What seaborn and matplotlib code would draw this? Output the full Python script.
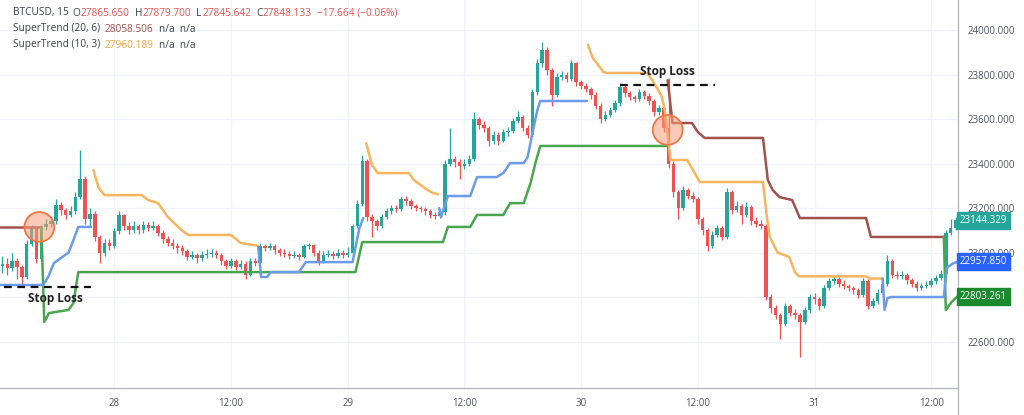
import numpy as np
import pandas as pd
import matplotlib
matplotlib.use("Agg")
import matplotlib.pyplot as plt
import seaborn as sns

# -------------------------------
# Chart data (30 min candles, time in hours from 28 00:00)
# -------------------------------
first_time = -11.5
step_hours = 0.5
first_open = 22940

closes = [
    22950, 22930, 22960, 22935, 22890, 23040, 23110, 22970, 23115, 23130,
    23140, 23215, 23190, 23170, 23185, 23250, 23330, 23150, 23175, 23070,
    23000, 23045, 23030, 23095, 23170, 23120, 23100, 23120, 23100, 23125,
    23110, 23120, 23090, 23060, 23045, 23030, 23020, 23005, 22980, 22990,
    22975, 22990, 22995, 23000, 22990, 22960, 22940, 22960, 22935, 22950,
    22900, 22960, 22955, 23030, 23020, 23030, 23010, 23000, 22995, 22985,
    22990, 22980, 23030, 23035, 23000, 22960, 22990, 22995, 22985, 23000,
    22990, 23000, 23120, 23220, 23410, 23160, 23140, 23120, 23160, 23185,
    23200, 23195, 23240, 23230, 23210, 23200, 23195, 23185, 23170, 23165,
    23180, 23400, 23420, 23405, 23390, 23400, 23420, 23600, 23575, 23560,
    23500, 23530, 23500, 23540, 23545, 23590, 23610, 23560, 23530, 23720,
    23850, 23910, 23820, 23710, 23790, 23800, 23780, 23850, 23765, 23750,
    23735, 23710, 23660, 23600, 23620, 23640, 23670, 23745, 23715, 23700,
    23690, 23720, 23705, 23680, 23630, 23650, 23560, 23400, 23270, 23200,
    23280, 23255, 23240, 23150, 23100, 23030, 23080, 23110, 23070, 23270,
    23190, 23210, 23170, 23205, 23140, 23130, 23120, 22800, 22750, 22720,
    22680, 22760, 22730, 22720, 22690, 22740, 22800, 22790, 22760, 22840,
    22870, 22880, 22860, 22850, 22840, 22830, 22810, 22870, 22760, 22780,
    22820, 22860, 22960, 22900, 22895, 22900, 22875, 22860, 22840, 22850,
    22855, 22870, 22885, 22905, 23090, 23110, 23144,
]

highs = [
    22985, 22975, 23000, 22975, 22945, 23055, 23125, 23120, 23125, 23150,
    23160, 23240, 23225, 23200, 23210, 23270, 23461, 23345, 23200, 23185,
    23080, 23060, 23060, 23110, 23185, 23175, 23135, 23140, 23130, 23140,
    23135, 23140, 23130, 23100, 23075, 23060, 23045, 23035, 23015, 23005,
    23000, 23005, 23015, 23015, 23010, 23000, 22970, 22975, 22970, 22965,
    22960, 22975, 22975, 23045, 23040, 23045, 23040, 23020, 23015, 23005,
    23005, 23000, 23040, 23045, 23040, 23010, 23005, 23010, 23005, 23015,
    23010, 23025, 23130, 23235, 23440, 23420, 23175, 23150, 23175, 23200,
    23215, 23215, 23255, 23255, 23240, 23220, 23210, 23205, 23195, 23180,
    23195, 23415, 23560, 23435, 23420, 23420, 23440, 23630, 23610, 23590,
    23570, 23545, 23540, 23555, 23565, 23605, 23635, 23620, 23575, 23735,
    23870, 23946, 23925, 23830, 23805, 23815, 23810, 23865, 23855, 23775,
    23760, 23745, 23720, 23670, 23635, 23655, 23685, 23760, 23755, 23725,
    23710, 23735, 23730, 23715, 23690, 23665, 23660, 23784, 23410, 23280,
    23300, 23290, 23270, 23250, 23160, 23110, 23095, 23125, 23120, 23290,
    23280, 23230, 23220, 23225, 23215, 23160, 23145, 23130, 22815, 22765,
    22730, 22775, 22770, 22745, 22730, 22755, 22815, 22820, 22800, 22855,
    22885, 22900, 22890, 22875, 22860, 22850, 22840, 22885, 22880, 22795,
    22835, 22875, 22990, 22970, 22915, 22915, 22910, 22885, 22870, 22865,
    22870, 22885, 22900, 22920, 23100, 23150, 23160,
]

lows = [
    22910, 22900, 22915, 22880, 22860, 22880, 23030, 22955, 22960, 23100,
    23115, 23130, 23170, 23150, 23160, 23175, 23240, 23130, 23120, 23050,
    22955, 22985, 23010, 23020, 23085, 23100, 23085, 23090, 23085, 23090,
    23095, 23100, 23075, 23045, 23030, 23015, 23000, 22990, 22965, 22970,
    22955, 22960, 22975, 22980, 22975, 22945, 22925, 22930, 22920, 22925,
    22880, 22895, 22940, 22950, 23005, 23010, 22995, 22985, 22980, 22970,
    22975, 22965, 22975, 23015, 22985, 22945, 22955, 22980, 22970, 22975,
    22975, 22980, 22990, 23110, 23210, 23140, 23070, 23100, 23110, 23150,
    23175, 23180, 23185, 23215, 23195, 23185, 23180, 23170, 23155, 23150,
    23155, 23170, 23390, 23385, 23330, 23375, 23390, 23410, 23555, 23540,
    23480, 23490, 23485, 23495, 23525, 23535, 23580, 23545, 23515, 23520,
    23710, 23835, 23800, 23660, 23700, 23775, 23765, 23770, 23750, 23735,
    23720, 23690, 23645, 23580, 23590, 23610, 23630, 23660, 23700, 23685,
    23675, 23680, 23690, 23665, 23615, 23620, 23540, 23380, 23250, 23150,
    23190, 23240, 23225, 23130, 23080, 23005, 23020, 23070, 23055, 23060,
    23175, 23180, 23130, 23160, 23125, 23115, 23105, 22785, 22730, 22700,
    22610, 22670, 22715, 22700, 22530, 22680, 22730, 22770, 22740, 22750,
    22830, 22860, 22845, 22835, 22825, 22815, 22795, 22800, 22745, 22750,
    22770, 22810, 22850, 22885, 22880, 22880, 22860, 22845, 22825, 22830,
    22840, 22845, 22860, 22875, 22895, 23080, 23100,
]

# SuperTrend (20, 6): down trend (dark red) / up trend (green)
st20_dn1_t = [-11.75, -7.5]
st20_dn1_v = [23115, 23115]
st20_up1_t = [-7.5, -7.2, -6.7, -4.7, -4.2, -3.7, 24.8, 25.5, 33.8, 34.3,
              36.6, 37.3, 40.0, 40.7, 42.1, 42.8, 43.3, 43.8, 56.8]
st20_up1_v = [23115, 22688, 22728, 22742, 22773, 22912, 22912, 23047, 23047, 23115,
              23115, 23169, 23169, 23222, 23222, 23312, 23402, 23479, 23479]
st20_dn2_t = [56.9, 57.4, 59.4, 60.0, 60.7, 66.7, 67.2, 67.7, 68.4, 69.7,
              70.5, 77.3, 77.8, 85.3]
st20_dn2_v = [23775, 23582, 23582, 23542, 23515, 23515, 23326, 23281, 23249, 23236,
              23155, 23155, 23070, 23070]
st20_up2_t = [85.3, 85.5, 86.1, 86.7]
st20_up2_v = [23070, 22742, 22778, 22803]

# SuperTrend (10, 3): up trend (blue) / down trend (orange)
st10_up1_t = [-11.75, -7.3, -6.8, -6.2, -4.7, -4.2, -3.7, -2.4]
st10_up1_v = [22854, 22854, 22890, 22953, 23000, 23056, 23115, 23115]
st10_dn1_t = [-2.15, -1.6, -1.0, 2.8, 3.5, 4.5, 5.5, 6.9, 7.6, 12.0, 13.0, 14.8]
st10_dn1_v = [23371, 23290, 23258, 23258, 23236, 23222, 23160, 23101, 23079, 23079,
              23043, 23030]
st10_up2_t = [14.8, 15.1, 15.7, 16.1, 19.0, 19.7, 24.5, 25.2, 25.6]
st10_up2_v = [23025, 22890, 22890, 22912, 22912, 22957, 22957, 23110, 23155]
st10_dn2_t = [25.9, 26.5, 27.1, 30.3, 30.8, 32.2, 32.8, 33.3]
st10_dn2_v = [23492, 23393, 23357, 23357, 23326, 23281, 23267, 23262]
st10_up3_t = [33.4, 33.6, 34.3, 36.6, 37.3, 39.3, 40.0, 40.7, 42.1, 42.5,
              43.0, 43.5, 43.8, 48.6]
st10_up3_v = [23200, 23160, 23254, 23254, 23339, 23339, 23357, 23402, 23402, 23429,
              23537, 23640, 23681, 23681]
st10_dn3_t = [48.7, 49.2, 49.6, 50.3, 50.7, 54.8, 55.3, 55.8, 56.3, 56.6,
              57.2, 58.9, 59.5, 60.2, 66.7, 67.1, 67.4, 68.2, 69.4, 70.0,
              70.4, 77.3, 77.7, 79.0]
st10_dn3_v = [23933, 23874, 23852, 23811, 23807, 23807, 23775, 23740, 23700, 23640,
              23416, 23416, 23371, 23317, 23317, 23160, 23070, 23000, 22980, 22910,
              22893, 22893, 22883, 22883]
st10_up4_t = [79.0, 79.2, 79.5, 79.9, 85.3, 85.6, 86.2, 86.7]
st10_up4_v = [22883, 22742, 22795, 22800, 22800, 22930, 22950, 22958]

# stop loss markers and circles
sl_lines = [([-11.3, -2.4], [22845, 22845]), ([52.0, 61.8], [23753, 23753])]
sl_text_pos = [(-6.0, 22795), (56.9, 23815)]
circle_t = [-7.7, 56.9]
circle_v = [23115, 23551]

# last value badges
badge_values = [23144.329, 22957.850, 22803.261]
badge_colors = ['#26a69a', '#2962ff', '#1b8a2f']

price_ticks = [22600, 22800, 23000, 23200, 23400, 23600, 23800, 24000]
price_labels = ['22600.000', '', '23000.000', '23200.000', '23400.000',
                '23600.000', '23800.000', '24000.000']
time_ticks = [0, 12, 24, 36, 48, 60, 72, 84]
time_labels = ['28', '12:00', '29', '12:00', '30', '12:00', '31', '12:00']

UP = '#26a69a'
DOWN = '#ef5350'
C_ORANGE = '#f8b55f'
C_BLUE = '#6b9be9'
C_GREEN = '#4aa64e'
C_DRED = '#a3514d'

# -------------------------------
# Build frame
# -------------------------------
n = len(closes)
df = pd.DataFrame({
    't': first_time + step_hours * np.arange(n),
    'open': [first_open] + closes[:-1],
    'close': closes,
    'high': highs,
    'low': lows,
})
df['up'] = df['close'] >= df['open']
df['color'] = np.where(df['up'], UP, DOWN)

sns.set_theme(style='white')
plt.rcParams['font.family'] = ['Open Sans', 'DejaVu Sans']

fig = plt.figure(figsize=(10.24, 4.15), dpi=100)
ax = fig.add_axes([0, 0.065, 0.9355, 0.935])

ax.set_xlim(-11.75, 86.75)
ax.set_ylim(22391, 24135)

# grid
for v in price_ticks:
    ax.axhline(v, color='#f0f3fa', lw=0.9, zorder=0)
for t in time_ticks:
    ax.axvline(t, color='#f0f3fa', lw=0.9, zorder=0)

# candles
ax.vlines(df['t'], df['low'], df['high'], colors=df['color'], lw=0.9, zorder=2)
body_lo = df[['open', 'close']].min(axis=1)
body_h = (df['close'] - df['open']).abs().clip(lower=4)
ax.bar(df['t'], body_h, bottom=body_lo, width=0.36, color=df['color'],
       linewidth=0, zorder=2)

# supertrend lines
segments = [
    (st20_dn1_t, st20_dn1_v, C_DRED), (st20_up1_t, st20_up1_v, C_GREEN),
    (st20_dn2_t, st20_dn2_v, C_DRED), (st20_up2_t, st20_up2_v, C_GREEN),
    (st10_up1_t, st10_up1_v, C_BLUE), (st10_dn1_t, st10_dn1_v, C_ORANGE),
    (st10_up2_t, st10_up2_v, C_BLUE), (st10_dn2_t, st10_dn2_v, C_ORANGE),
    (st10_up3_t, st10_up3_v, C_BLUE), (st10_dn3_t, st10_dn3_v, C_ORANGE),
    (st10_up4_t, st10_up4_v, C_BLUE),
]
for ts, vs, col in segments:
    sns.lineplot(x=ts, y=vs, color=col, lw=1.8, ax=ax, sort=False,
                 estimator=None, zorder=3)

# circles
ax.scatter(circle_t, circle_v, s=460, facecolor='#f7a07a', alpha=0.55,
           edgecolor='none', zorder=4)
ax.scatter(circle_t, circle_v, s=460, facecolor='none', edgecolor='#ee7845',
           linewidth=1.3, zorder=4)

# stop loss
for ts, vs in sl_lines:
    ax.plot(ts, vs, color='#111111', lw=1.6, ls=(0, (3.5, 2.5)), zorder=5)
for (tx, ty) in sl_text_pos:
    ax.text(tx, ty, 'Stop Loss', ha='center', va='center', fontsize=8.5,
            fontweight='bold', color='#222222', zorder=5)

# axes styling
for s in ['top', 'left']:
    ax.spines[s].set_visible(False)
for s in ['right', 'bottom']:
    ax.spines[s].set_color('#b2b5be')
    ax.spines[s].set_linewidth(0.9)
ax.yaxis.tick_right()
ax.set_yticks(price_ticks)
ax.set_yticklabels(price_labels)
ax.set_xticks(time_ticks)
ax.set_xticklabels(time_labels)
ax.tick_params(axis='y', length=0, pad=7, labelsize=7, labelcolor='#50535e')
ax.tick_params(axis='x', length=0, pad=7, labelsize=7, labelcolor='#50535e')
ax.set_xlabel('')
ax.set_ylabel('')

# badges
for v, c in zip(badge_values, badge_colors):
    ax.annotate(f'{v:.3f}', xy=(1.0, v), xycoords=('axes fraction', 'data'),
                xytext=(2, 0), textcoords='offset pixels', ha='left', va='center',
                fontsize=7, color='white', annotation_clip=False, zorder=6,
                bbox=dict(boxstyle='square,pad=0.3', fc=c, ec=c))

# right axis line down to the bottom edge
fig.add_artist(plt.Line2D([0.9355, 0.9355], [0, 0.065], color='#b2b5be', lw=0.9))

# header legend, pieces placed one after the other
GRAY = '#3b3e48'
RED = '#e8534f'
header_lines = [
    (13, [('BTCUSD, 15', GRAY, 4), ('O', GRAY, 0.5), ('27865.650', RED, 5),
          ('H', GRAY, 0.5), ('27879.700', RED, 5), ('L', GRAY, 0.5),
          ('27845.642', RED, 5), ('C', GRAY, 0.5), ('27848.133', RED, 5),
          ('\u221217.664 (\u22120.06%)', RED, 0)]),
    (29, [('SuperTrend (20, 6)', GRAY, 5), ('28058.506', C_DRED, 5),
          ('n/a  n/a', GRAY, 0)]),
    (45, [('SuperTrend (10, 3)', GRAY, 5), ('27960.189', '#f5a63c', 5),
          ('n/a  n/a', GRAY, 0)]),
]
renderer = fig.canvas.get_renderer()
W, H = 1024, 415
for y, pieces in header_lines:
    x = 12.7
    for s, c, gap in pieces:
        t = fig.text(x / W, 1 - y / H, s, ha='left', va='center', fontsize=7.25, color=c)
        bb = t.get_window_extent(renderer=renderer)
        x = bb.x1 + gap

plt.savefig('out.png', dpi=100)
plt.close()
